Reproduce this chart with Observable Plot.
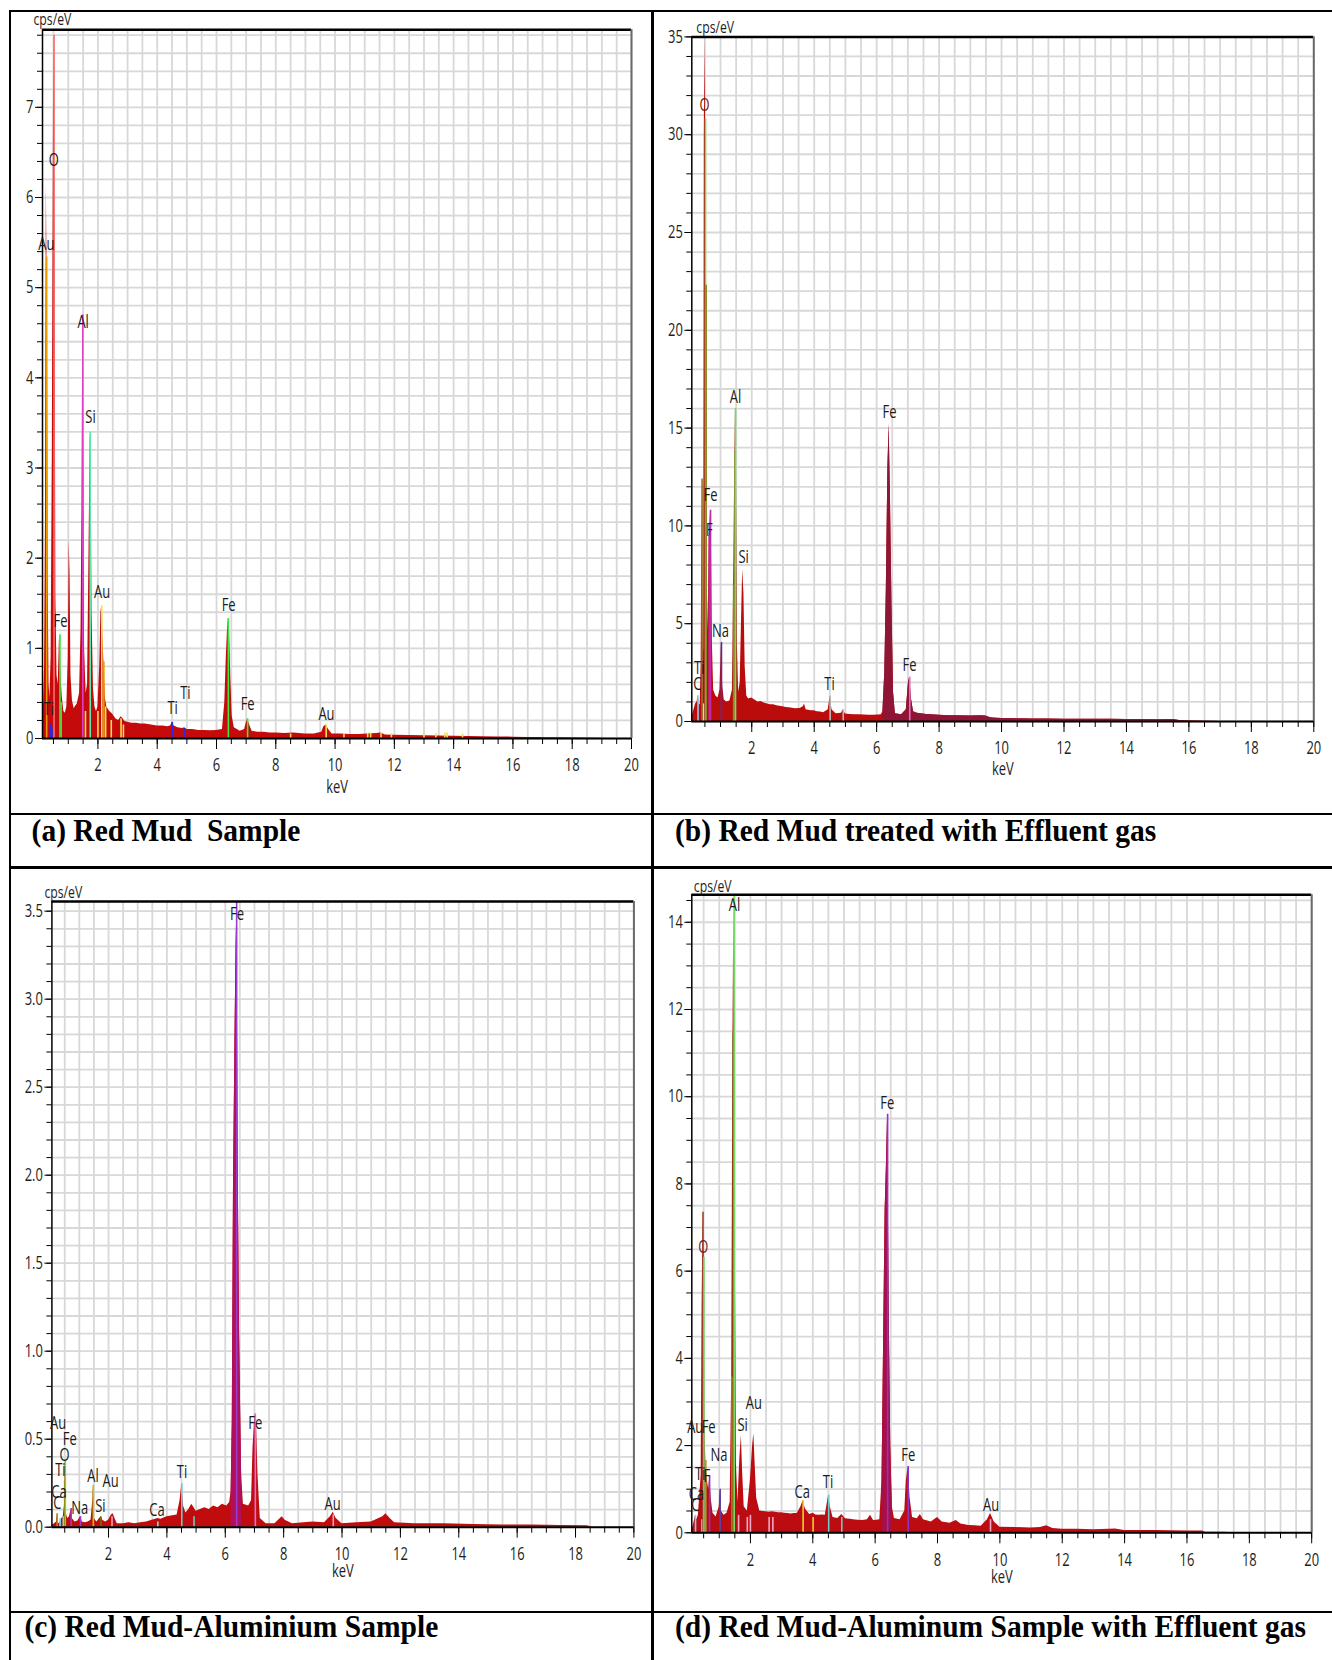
<!DOCTYPE html>
<html><head><meta charset="utf-8">
<script src="https://cdn.jsdelivr.net/npm/d3@7"></script>
<script src="https://cdn.jsdelivr.net/npm/@observablehq/plot@0.6"></script>
<style>
body{margin:0;background:#fff;}
#page{position:relative;width:1332px;height:1660px;overflow:hidden;background:#fff;}
.ln{position:absolute;background:#000;z-index:5;}
.panel{position:absolute;}
.cap{position:absolute;font-family:"Liberation Serif","Times New Roman",serif;font-weight:bold;font-size:29.5px;line-height:1;white-space:pre;color:#000;z-index:6;transform:scaleY(1.08);transform-origin:0 75%;}
</style></head>
<body><div id="page">
<div class="ln" style="left:8.5px;top:9.5px;width:2.5px;height:1700px"></div>
<div class="ln" style="left:8.5px;top:9.5px;width:1400px;height:2.5px"></div>
<div class="ln" style="left:651px;top:9.5px;width:2.5px;height:1700px"></div>
<div class="ln" style="left:8.5px;top:812.7px;width:1400px;height:2.6px"></div>
<div class="ln" style="left:8.5px;top:866px;width:1400px;height:2.5px"></div>
<div class="ln" style="left:8.5px;top:1610.7px;width:1400px;height:2.6px"></div>
<div id="pa" class="panel"></div><div id="pb" class="panel"></div>
<div id="pc" class="panel"></div><div id="pd" class="panel"></div>
<div id="ca" class="cap"></div><div id="cb" class="cap"></div>
<div id="cc" class="cap"></div><div id="cd" class="cap"></div>
</div>
<script>
// ---------- captions ----------
const captions = ["(a) Red Mud  Sample", "(b) Red Mud treated with Effluent gas",
  "(c) Red Mud-Aluminium Sample", "(d) Red Mud-Aluminum Sample with Effluent gas"];

// ---------- axis ticks ----------
const xTickLabels = [2, 4, 6, 8, 10, 12, 14, 16, 18, 20];
const yTicksA = [0, 1, 2, 3, 4, 5, 6, 7];
const yTicksB = [0, 5, 10, 15, 20, 25, 30, 35];
const yTicksC = [0, 0.5, 1.0, 1.5, 2.0, 2.5, 3.0, 3.5];
const yTicksD = [0, 2, 4, 6, 8, 10, 12, 14];

// ---------- spectra [keV, cps/eV] ----------
const specA = [[0.13,0.05],[0.16,0.3],[0.2,0.8],[0.23,2.4],[0.26,6.15],[0.28,5.3],[0.3,4.55],[0.32,1.8],[0.35,0.6],[0.38,0.45],[0.42,0.9],[0.46,3.1],[0.5,7.0],[0.52,7.8],[0.54,6.0],[0.56,4.5],[0.58,1.6],[0.62,0.7],[0.66,0.6],[0.7,1.09],[0.72,1.15],[0.75,0.7],[0.8,0.45],[0.85,0.3],[0.9,0.28],[0.95,0.35],[1.0,0.9],[1.03,2.2],[1.06,1.8],[1.09,0.7],[1.14,0.42],[1.2,0.33],[1.25,0.36],[1.3,0.38],[1.38,0.5],[1.43,1.2],[1.46,2.5],[1.49,4.7],[1.52,3.0],[1.55,1.0],[1.6,0.5],[1.65,0.6],[1.7,2.1],[1.74,3.4],[1.77,3.15],[1.8,1.4],[1.85,0.55],[1.9,0.35],[1.95,0.3],[2.0,0.35],[2.06,0.8],[2.1,1.4],[2.13,1.47],[2.16,1.2],[2.2,0.85],[2.25,0.45],[2.3,0.35],[2.4,0.3],[2.5,0.27],[2.6,0.22],[2.7,0.2],[2.78,0.24],[2.85,0.22],[2.9,0.19],[3.0,0.18],[3.15,0.17],[3.3,0.17],[3.45,0.16],[3.6,0.16],[3.8,0.15],[4.0,0.14],[4.2,0.14],[4.35,0.13],[4.45,0.14],[4.51,0.18],[4.57,0.14],[4.7,0.12],[4.85,0.11],[4.93,0.12],[5.0,0.1],[5.2,0.1],[5.4,0.09],[5.6,0.09],[5.8,0.085],[6.0,0.09],[6.2,0.1],[6.28,0.4],[6.33,0.9],[6.37,1.2],[6.4,1.33],[6.44,1.2],[6.48,0.7],[6.53,0.25],[6.6,0.12],[6.8,0.08],[6.95,0.1],[7.0,0.17],[7.05,0.22],[7.12,0.15],[7.2,0.08],[7.4,0.07],[7.6,0.07],[7.8,0.06],[8.0,0.06],[8.3,0.055],[8.6,0.06],[9.0,0.05],[9.3,0.05],[9.55,0.07],[9.62,0.13],[9.7,0.15],[9.78,0.1],[9.9,0.05],[10.2,0.05],[10.5,0.045],[10.8,0.045],[11.1,0.05],[11.4,0.055],[11.55,0.06],[11.7,0.04],[12.0,0.035],[12.5,0.033],[13.0,0.03],[13.5,0.028],[14.0,0.025],[14.5,0.022],[15.0,0.02],[15.5,0.018],[16.0,0.015],[16.5,0.012],[16.8,0.01],[17.2,0.008],[17.6,0.008],[18.2,0.005],[18.8,0.004],[19.2,0.0],[20,0]];
const specB = [[0.08,0.2],[0.15,0.6],[0.2,0.9],[0.25,1.0],[0.28,1.35],[0.31,0.8],[0.35,0.9],[0.38,3.0],[0.41,12.4],[0.43,5.0],[0.46,3.5],[0.48,30],[0.5,35],[0.52,30.8],[0.54,22.3],[0.57,8.0],[0.6,4.6],[0.64,9.5],[0.68,10.8],[0.71,9.0],[0.74,4.0],[0.78,1.6],[0.85,1.3],[0.92,1.2],[0.98,1.6],[1.03,4.04],[1.07,1.8],[1.12,1.1],[1.2,1.0],[1.3,1.05],[1.38,1.6],[1.42,6.97],[1.46,13.8],[1.48,16.0],[1.51,13.0],[1.54,4.0],[1.58,1.5],[1.63,2.0],[1.67,5.0],[1.71,7.8],[1.75,6.5],[1.79,2.8],[1.84,1.3],[1.9,1.15],[2.0,1.2],[2.1,1.1],[2.2,1.0],[2.3,1.02],[2.4,0.95],[2.5,0.9],[2.6,0.85],[2.7,0.85],[2.8,0.8],[2.9,0.78],[3.0,0.75],[3.1,0.72],[3.2,0.7],[3.3,0.68],[3.4,0.65],[3.55,0.66],[3.65,0.75],[3.69,0.9],[3.74,0.6],[3.9,0.55],[4.0,0.55],[4.1,0.5],[4.2,0.48],[4.3,0.45],[4.45,0.6],[4.51,1.3],[4.57,0.6],[4.7,0.4],[4.87,0.42],[4.93,0.6],[5.0,0.38],[5.15,0.36],[5.3,0.35],[5.45,0.34],[5.6,0.33],[5.75,0.32],[5.9,0.32],[6.05,0.33],[6.15,0.35],[6.2,0.5],[6.26,2.5],[6.31,6.8],[6.36,13.0],[6.4,15.2],[6.44,11.7],[6.49,6.0],[6.54,1.5],[6.6,0.4],[6.8,0.35],[6.95,0.6],[7.02,2.0],[7.06,2.27],[7.11,1.2],[7.18,0.5],[7.3,0.42],[7.6,0.36],[8.0,0.32],[8.3,0.3],[8.6,0.3],[9.0,0.28],[9.3,0.3],[9.5,0.28],[9.6,0.22],[9.7,0.18],[10.0,0.15],[10.5,0.14],[11.0,0.13],[11.5,0.13],[12.0,0.12],[12.5,0.12],[13.0,0.11],[13.5,0.11],[14.0,0.1],[14.5,0.1],[15.0,0.09],[15.5,0.1],[15.7,0.05],[16.0,0.02],[16.5,0.01],[17.0,0.0],[20,0]];
const specC = [[0.06,0.01],[0.15,0.02],[0.22,0.03],[0.24,0.076],[0.26,0.03],[0.3,0.02],[0.35,0.03],[0.4,0.05],[0.45,0.06],[0.49,0.12],[0.52,0.38],[0.55,0.08],[0.6,0.05],[0.66,0.06],[0.72,0.1],[0.76,0.05],[0.85,0.03],[0.95,0.035],[1.04,0.06],[1.1,0.03],[1.2,0.025],[1.3,0.03],[1.4,0.04],[1.46,0.15],[1.48,0.237],[1.51,0.05],[1.6,0.03],[1.74,0.06],[1.8,0.04],[1.9,0.03],[2.0,0.04],[2.1,0.07],[2.16,0.076],[2.22,0.05],[2.3,0.02],[2.5,0.02],[2.7,0.025],[2.9,0.02],[3.1,0.025],[3.3,0.03],[3.5,0.04],[3.69,0.05],[3.8,0.045],[4.0,0.06],[4.2,0.065],[4.35,0.07],[4.45,0.15],[4.51,0.246],[4.57,0.12],[4.65,0.08],[4.75,0.1],[4.85,0.13],[4.93,0.11],[5.0,0.09],[5.15,0.1],[5.3,0.11],[5.45,0.1],[5.6,0.12],[5.75,0.11],[5.9,0.13],[6.05,0.12],[6.15,0.14],[6.2,0.2],[6.24,0.6],[6.28,1.9],[6.33,2.75],[6.37,3.3],[6.4,3.55],[6.44,2.1],[6.49,1.1],[6.53,0.63],[6.56,0.3],[6.62,0.13],[6.8,0.12],[6.9,0.15],[6.95,0.45],[7.02,0.644],[7.07,0.6],[7.12,0.3],[7.2,0.05],[7.4,0.02],[7.7,0.02],[7.95,0.06],[8.05,0.04],[8.3,0.02],[8.7,0.025],[9.0,0.03],[9.4,0.025],[9.6,0.06],[9.7,0.085],[9.8,0.05],[10.0,0.02],[10.5,0.025],[11.0,0.03],[11.4,0.06],[11.5,0.076],[11.65,0.05],[11.8,0.025],[12.5,0.02],[13.5,0.02],[14.5,0.015],[15.5,0.012],[16.5,0.012],[17.5,0.01],[18.4,0.008],[18.6,0.0],[20,0]];
const specD = [[0.12,0.05],[0.18,0.2],[0.24,0.4],[0.28,0.3],[0.33,0.4],[0.38,0.9],[0.42,1.3],[0.45,5.17],[0.48,7.35],[0.51,6.32],[0.54,2.5],[0.57,1.66],[0.62,1.2],[0.66,1.0],[0.7,1.31],[0.74,0.8],[0.8,0.45],[0.9,0.36],[1.0,0.6],[1.03,1.01],[1.07,0.5],[1.15,0.4],[1.25,0.45],[1.35,0.7],[1.4,3.57],[1.44,11.45],[1.47,14.6],[1.51,7.35],[1.55,1.6],[1.6,0.7],[1.66,1.7],[1.71,2.23],[1.75,1.4],[1.8,0.6],[1.9,0.5],[2.0,1.2],[2.07,2.0],[2.11,2.27],[2.15,1.6],[2.2,0.8],[2.3,0.5],[2.4,0.49],[2.5,0.48],[2.6,0.47],[2.7,0.48],[2.8,0.47],[2.9,0.46],[3.0,0.46],[3.1,0.45],[3.2,0.44],[3.3,0.43],[3.4,0.44],[3.5,0.44],[3.62,0.6],[3.69,0.74],[3.76,0.55],[3.9,0.42],[4.01,0.45],[4.1,0.41],[4.2,0.4],[4.3,0.41],[4.4,0.4],[4.47,0.7],[4.51,0.86],[4.56,0.6],[4.65,0.35],[4.8,0.33],[4.93,0.42],[5.05,0.32],[5.2,0.31],[5.3,0.3],[5.45,0.29],[5.6,0.28],[5.75,0.3],[5.85,0.4],[5.95,0.28],[6.05,0.29],[6.15,0.3],[6.22,1.2],[6.27,4.3],[6.32,7.4],[6.36,8.39],[6.4,9.6],[6.45,5.17],[6.5,2.0],[6.55,0.6],[6.62,0.33],[6.8,0.3],[6.95,0.5],[7.0,1.2],[7.06,1.52],[7.12,0.8],[7.2,0.35],[7.35,0.32],[7.45,0.42],[7.55,0.3],[7.8,0.25],[8.0,0.35],[8.15,0.25],[8.4,0.22],[8.6,0.28],[8.75,0.2],[9.0,0.17],[9.2,0.16],[9.4,0.15],[9.6,0.3],[9.7,0.44],[9.82,0.25],[10.0,0.13],[10.5,0.12],[11.0,0.11],[11.3,0.12],[11.5,0.16],[11.7,0.1],[12.0,0.08],[12.5,0.08],[13.0,0.07],[13.5,0.08],[13.7,0.09],[14.0,0.05],[14.5,0.05],[15.0,0.05],[15.5,0.045],[16.0,0.04],[16.5,0.04],[16.6,0.01],[17.2,0.01],[17.5,0.0],[20,0]];

// ---------- element marker lines [element key, keV, cps/eV] ----------
const linesA = [["AuL",0.27,5.34],["O",0.52,7.8],["Ti",0.40,0.16],["Ti",0.45,0.12],["Fe",0.72,1.15],["Fe",0.76,0.4],["Al",1.49,4.7],["Si",1.74,3.4],["AuY",1.58,0.3],["AuY",2.0,0.3],["AuM",2.13,1.47],["AuL",2.2,0.85],["AuY",2.26,0.35],["AuY",2.45,0.2],["AuY",2.78,0.22],["AuY",2.86,0.15],["Ti",4.51,0.18],["Ti",4.93,0.11],["Fe",6.4,1.33],["Fe",7.05,0.22],["AuM",9.7,0.15],["AuY",8.5,0.05],["AuY",10.3,0.05],["AuY",11.1,0.06],["AuY",11.2,0.06],["AuY",11.55,0.06],["AuY",11.9,0.05],["AuY",13.0,0.05],["AuY",13.4,0.05],["AuY",13.7,0.06],["AuY",13.78,0.06],["AuY",14.3,0.05]];
const linesB = [["C",0.28,1.3],["Ti",0.45,0.9],["O2",0.41,12.4],["O",0.52,30.8],["O3",0.54,22.3],["Fe",0.64,9.5],["Fe",0.68,10.8],["Na",1.03,4.04],["Al2",1.42,6.97],["Al2",1.46,13.8],["Al",1.48,16.0],["Ti2",4.51,1.3],["Ti2",4.93,0.6],["FeB",7.06,2.27]];
const linesC = [["C",0.24,0.076],["Ca",0.34,0.05],["Ti",0.45,0.06],["O2",0.5,0.26],["O",0.52,0.38],["Fe",0.72,0.106],["Fe",1.04,0.06],["Al",1.48,0.237],["O2",1.74,0.06],["Au",2.12,0.06],["Ca",3.69,0.03],["Ti2",4.51,0.246],["Ti2",4.93,0.06],["Fe",6.39,3.55],["FeB",7.03,0.644],["Au",9.7,0.07]];
const linesD = [["C",0.24,0.4],["Ti",0.45,0.3],["O2",0.48,7.35],["O",0.51,6.32],["Fe3",0.57,1.66],["Fe",0.69,1.31],["Na",1.03,1.0],["Al3",1.41,3.57],["Al2",1.45,11.45],["Al",1.48,14.6],["Au",1.62,0.4],["Au",1.9,0.35],["Au",2.0,0.4],["Au",2.6,0.35],["Au",2.72,0.35],["Ca",3.69,0.74],["Ca",4.01,0.35],["Ti2",4.51,0.86],["Ti2",4.93,0.35],["Fe",6.4,9.6],["Fe",7.06,1.52],["Au",9.7,0.3]];

// ---------- peak labels [text, keV, cps/eV] ----------
const labelsA = [["O",0.51,6.41],["Au",0.26,5.48],["Al",1.5,4.62],["Si",1.75,3.56],["Au",2.14,1.62],["Fe",0.74,1.30],["Ti",0.34,0.33],["Ti",4.52,0.34],["Ti",4.95,0.5],["Fe",6.41,1.48],["Fe",7.05,0.38],["Au",9.71,0.27]];
const labelsB = [["O",0.49,31.5],["Al",1.48,16.6],["Fe",0.68,11.55],["F",0.64,9.8],["Si",1.74,8.4],["Na",1.0,4.6],["Ti",0.32,2.74],["C",0.26,1.92],["Ti",4.49,1.92],["Fe",6.41,15.8],["Fe",7.05,2.86]];
const labelsC = [["Fe",6.4,3.48],["Fe",7.03,0.59],["Ti",4.52,0.31],["Ca",3.66,0.095],["Al",1.47,0.29],["Au",2.07,0.26],["Si",1.72,0.118],["Na",1.01,0.11],["O",0.49,0.41],["Ti",0.35,0.326],["Au",0.27,0.59],["Fe",0.67,0.50],["Ca",0.3,0.2],["C",0.25,0.136],["Au",9.68,0.133]];
const labelsD = [["Al",1.49,14.39],["Fe",6.39,9.84],["O",0.49,6.55],["Au",2.11,2.96],["Au",0.23,2.42],["Fe",0.66,2.42],["Si",1.75,2.46],["Na",0.99,1.77],["Ti",0.39,1.35],["F",0.6,1.3],["Ca",0.27,0.89],["C",0.23,0.63],["Ca",3.66,0.93],["Ti",4.49,1.16],["Fe",7.06,1.77],["Au",9.72,0.63]];

// ---------- styling (colours per marker key) ----------
const colA = {AuL:"#ee9a00",O:"#ff6a6a",Ti:"#2a2ae0",Fe:"#3ee83e",Al:"#e040c8",Si:"#5ee8a8",AuM:"#f4e040",AuY:"#f0e050"};
const colB = {C:"#90c8e8",Ti:"#a8e4f4",O2:"#a07030",O:"#78d868",O3:"#858a20",Fe:"#c028a8",Na:"#5a2a9a",Al2:"#8a8a20",Al:"#78d868",Ti2:"#b8b8b8",FeB:"#e070c0"};
const colC = {C:"#a09020",Ca:"#80e0e0",Ti:"#80e0e0",O2:"#707010",O:"#a8c020",Fe:"#9a3cd0",Al:"#b8c818",Au:"#f0a0c0",Ti2:"#70c8c8",FeB:"#e070e0"};
const colD = {C:"#90c8e8",Ti:"#a8e4f4",O2:"#a04a30",O:"#78d868",Fe3:"#c09020",Fe:"#8a34c8",Na:"#6040a0",Al3:"#d07a20",Al2:"#6a6a10",Al:"#78d868",Au:"#f0a8c8",Ca:"#f0d020",Ti2:"#70c8c8"};

const panels = [
  {el:"pa", left:0, top:0, width:651, height:812, ml:42, mr:20, mt:29.3, mb:74, xmin:0.13, ymax:7.86,
   spec:specA, lines:linesA, labels:labelsA, col:colA, yTicks:yTicksA, yStep:0.2, fmt:d=>d, fill:"#c40a0a",
   overlay:null, oLabel:"#1a1a1a", keVdy:54, cpsdx:-9, cpsdy:-5},
  {el:"pb", left:653, top:0, width:679, height:812, ml:38.3, mr:18.7, mt:36.4, mb:91, xmin:0.08, ymax:35,
   spec:specB, lines:linesB, labels:labelsB, col:colB, yTicks:yTicksB, yStep:1, fmt:d=>d, fill:"#bb0c0c",
   overlay:[6.18, 20, "#8e1535"], oLabel:"#7a1a10", keVdy:53, cpsdx:4.5, cpsdy:-4},
  {el:"pc", left:0, top:868, width:651, height:742, ml:51.4, mr:17.6, mt:33, mb:83.3, xmin:0.06, ymax:3.555,
   spec:specC, lines:linesC, labels:labelsC, col:colC, yTicks:yTicksC, yStep:0.1, fmt:d3.format(".1f"), fill:"#c00c0c",
   overlay:[6.18, 6.6, "#b0105a"], oLabel:"#1a1a1a", keVdy:50, cpsdx:-7.5, cpsdy:-4},
  {el:"pd", left:653, top:868, width:679, height:742, ml:38.3, mr:20.8, mt:26.3, mb:77.7, xmin:0.12, ymax:14.63,
   spec:specD, lines:linesD, labels:labelsD, col:colD, yTicks:yTicksD, yStep:0.5, fmt:d=>d, fill:"#bb0c12",
   overlay:[6.18, 6.6, "#a80f45"], oLabel:"#7a1a10", keVdy:50, cpsdx:2, cpsdy:-3}
];

const FONT = "'Open Sans', 'DejaVu Sans', sans-serif";
const SQUEEZE = 0.72;
const xMinor = d3.range(0.5, 20.01, 0.5);

function squeeze(svg, s) {
  svg.querySelectorAll("text").forEach(t => {
    const bb = t.getBBox();
    const a = getComputedStyle(t).textAnchor;
    const ax = a === "end" ? bb.x + bb.width : a === "middle" ? bb.x + bb.width / 2 : bb.x;
    const prev = t.getAttribute("transform") || "";
    t.setAttribute("transform", `${prev} translate(${ax},0) scale(${s},1) translate(${-ax},0)`);
  });
}

panels.forEach(p => {
  const yMinor = d3.range(0, p.ymax + 1e-9, p.yStep).map(v => +v.toFixed(3));
  const X = d => d[0], Y = d => d[1];
  const marks = [
    Plot.gridX(xMinor, {stroke:"#d8d8d8", strokeOpacity:1, strokeWidth:1.8}),
    Plot.gridY(yMinor, {stroke:"#d8d8d8", strokeOpacity:1, strokeWidth:1.8}),
    Plot.areaY(p.spec, {x:X, y:Y, fill:p.fill, curve:"linear"}),
  ];
  if (p.overlay) {
    const [a, b, c] = p.overlay;
    marks.push(Plot.areaY(p.spec, {filter:d => d[0] >= a && d[0] <= b, x:X, y:Y, fill:c, curve:"linear"}));
  }
  marks.push(
    Plot.ruleX(p.lines, {x:d => d[1], y1:0, y2:d => d[2], stroke:d => p.col[d[0]], strokeWidth:1.6}),
    Plot.ruleY([p.ymax], {stroke:"#000", strokeWidth:2.5}),
    Plot.ruleX([20], {stroke:"#6a6a6a", strokeWidth:2}),
    Plot.ruleX([p.xmin], {stroke:"#000", strokeWidth:1.5}),
    Plot.ruleY([0], {stroke:"#000", strokeWidth:2}),
    Plot.axisX(xMinor, {tickSize:6, tickFormat:() => "", label:null, stroke:"#000"}),
    Plot.axisX(xTickLabels, {tickSize:11, tickPadding:9, label:null, stroke:"#000", fill:"#1e1e1e"}),
    Plot.axisY(yMinor, {tickSize:5, tickFormat:() => "", label:null, stroke:"#000"}),
    Plot.axisY(p.yTicks, {tickSize:7, tickPadding:2, tickFormat:p.fmt, label:null, stroke:"#000", fill:"#1e1e1e"}),
    Plot.text(p.labels, {x:d => d[1], y:d => d[2], text:d => d[0], fill:d => d[0] === "O" ? p.oLabel : "#1a1a1a", fontSize:18}),
    Plot.text(["keV"], {frameAnchor:"bottom", dy:p.keVdy, text:d => d, fill:"#1e1e1e", fontSize:18}),
    Plot.text(["cps/eV"], {frameAnchor:"top-left", textAnchor:"start", lineAnchor:"bottom", dx:p.cpsdx, dy:p.cpsdy, text:d => d, fill:"#1e1e1e", fontSize:17})
  );
  const svg = Plot.plot({
    width:p.width, height:p.height,
    marginLeft:p.ml, marginRight:p.mr, marginTop:p.mt, marginBottom:p.mb,
    x:{domain:[p.xmin, 20]}, y:{domain:[0, p.ymax]},
    color:{type:"identity"},
    style:{fontFamily:FONT, fontSize:"18px", background:"transparent", overflow:"visible"},
    marks
  });
  const host = document.getElementById(p.el);
  host.style.left = p.left + "px"; host.style.top = p.top + "px";
  host.appendChild(svg);
  squeeze(svg, SQUEEZE);
});

// captions: [element, left, top]
const capPos = [["ca",31.6,816.5],["cb",675,816.5],["cc",24.4,1613],["cd",675,1613]];
capPos.forEach(([id, l, t], i) => {
  const e = document.getElementById(id);
  e.textContent = captions[i];
  e.style.left = l + "px"; e.style.top = t + "px";
});
</script>
</body></html>
